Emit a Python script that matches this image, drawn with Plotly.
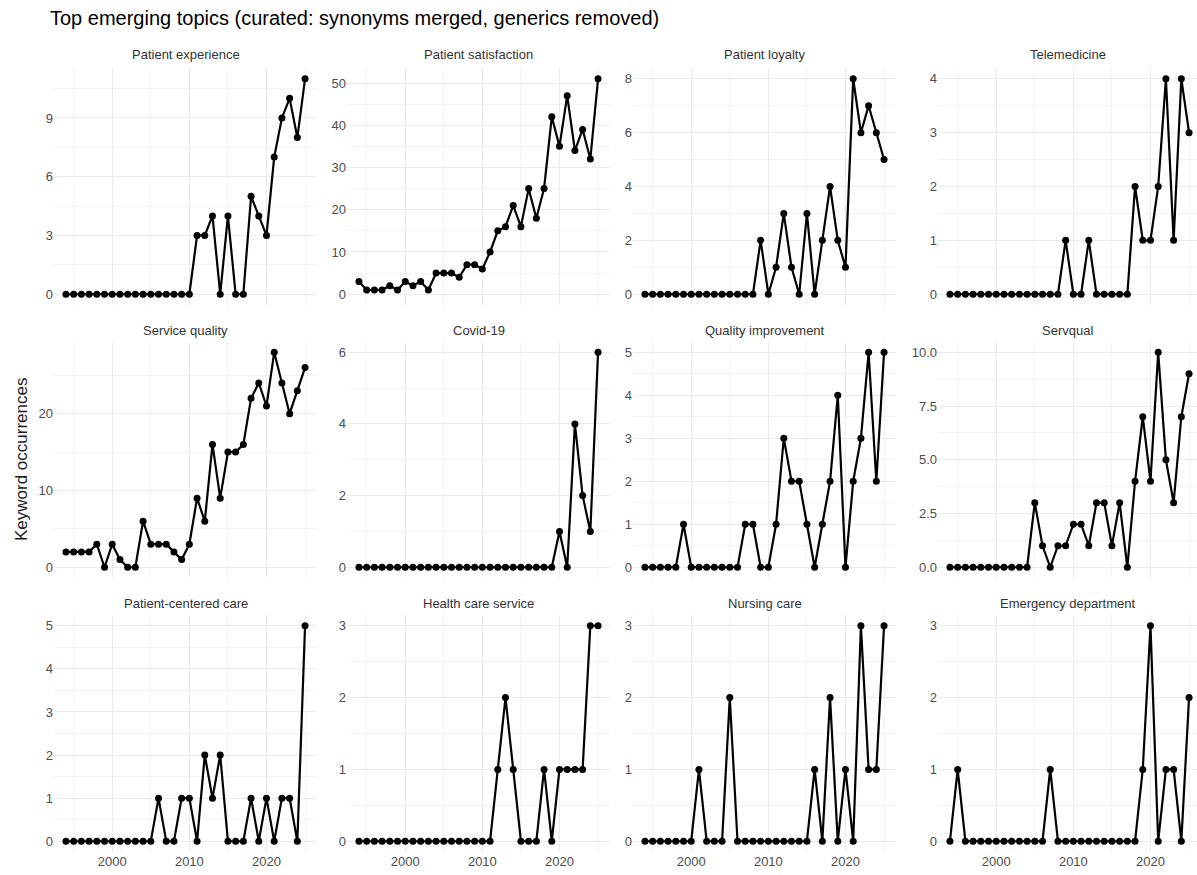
import plotly.graph_objects as go

years = list(range(1994, 2026))

topics = [
    "Patient experience", "Patient satisfaction", "Patient loyalty", "Telemedicine",
    "Service quality", "Covid-19", "Quality improvement", "Servqual",
    "Patient-centered care", "Health care service", "Nursing care", "Emergency department",
]

patient_experience = [0]*17 + [3, 3, 4, 0, 4, 0, 0, 5, 4, 3, 7, 9, 10, 8, 11]
patient_satisfaction = [3, 1, 1, 1, 2, 1, 3, 2, 3, 1, 5, 5, 5, 4, 7, 7, 6, 10, 15, 16, 21, 16,
                        25, 18, 25, 42, 35, 47, 34, 39, 32, 51]
patient_loyalty = [0]*15 + [2, 0, 1, 3, 1, 0, 3, 0, 2, 4, 2, 1, 8, 6, 7, 6, 5]
telemedicine = [0]*15 + [1, 0, 0, 1, 0, 0, 0, 0, 0, 2, 1, 1, 2, 4, 1, 4, 3]
service_quality = [2, 2, 2, 2, 3, 0, 3, 1, 0, 0, 6, 3, 3, 3, 2, 1, 3, 9, 6, 16, 9, 15, 15, 16,
                   22, 24, 21, 28, 24, 20, 23, 26]
covid_19 = [0]*26 + [1, 0, 4, 2, 1, 6]
quality_improvement = [0, 0, 0, 0, 0, 1, 0, 0, 0, 0, 0, 0, 0, 1, 1, 0, 0, 1, 3, 2, 2, 1, 0, 1,
                       2, 4, 0, 2, 3, 5, 2, 5]
servqual = [0]*11 + [3, 1, 0, 1, 1, 2, 2, 1, 3, 3, 1, 3, 0, 4, 7, 4, 10, 5, 3, 7, 9]
patient_centered_care = [0]*12 + [1, 0, 0, 1, 1, 0, 2, 1, 2, 0, 0, 0, 1, 0, 1, 0, 1, 1, 0, 5]
health_care_service = [0]*18 + [1, 2, 1, 0, 0, 0, 1, 0, 1, 1, 1, 1, 3, 3]
nursing_care = [0]*7 + [1, 0, 0, 0, 2] + [0]*10 + [1, 0, 2, 0, 1, 0, 3, 1, 1, 3]
emergency_department = [0, 1] + [0]*11 + [1] + [0]*11 + [1, 3, 0, 1, 1, 0, 2]

series = [patient_experience, patient_satisfaction, patient_loyalty, telemedicine,
          service_quality, covid_19, quality_improvement, servqual,
          patient_centered_care, health_care_service, nursing_care, emergency_department]

y_dticks = [3, 10, 2, 1, 10, 2, 1, 2.5, 1, 1, 1, 1]

W, H = 1197, 875
col_px = [(54, 317), (347, 610), (633, 896), (938, 1197)]
row_px = [(68, 305), (341.5, 578), (615, 852)]
strip_y = [55, 330, 603]
px_per_year = 263 / 34.1

GRID = "#EBEBEB"
TICKCOL = "#4D4D4D"
FONT = "Liberation Sans, Arial, sans-serif"

fig = go.Figure()
layout = {}
annotations = []

for i, (name, vals) in enumerate(zip(topics, series)):
    r, c = divmod(i, 4)
    n = i + 1
    sfx = "" if n == 1 else str(n)
    fig.add_trace(go.Scatter(
        x=years, y=vals, mode="lines+markers",
        line=dict(color="black", width=2.2),
        marker=dict(color="black", size=7),
        xaxis="x" + sfx, yaxis="y" + sfx, showlegend=False,
        hoverinfo="x+y",
    ))
    x0, x1 = col_px[c]
    y0, y1 = row_px[r]
    xr0 = years[0] - 0.05 * (years[-1] - years[0])
    xr1 = xr0 + (x1 - x0) / px_per_year
    vmax = max(vals)
    dt = y_dticks[i]
    layout["xaxis" + sfx] = dict(
        domain=[x0 / W, x1 / W], anchor="y" + sfx, range=[xr0, xr1],
        tickmode="linear", tick0=2000, dtick=10,
        showgrid=True, gridcolor=GRID, gridwidth=1,
        minor=dict(tickmode="linear", tick0=1995, dtick=5, showgrid=True,
                   gridcolor="#F3F3F3", gridwidth=0.6),
        zeroline=False, showline=False, ticks="",
        showticklabels=(r == 2),
        tickfont=dict(size=13, color=TICKCOL, family=FONT),
    )
    layout["yaxis" + sfx] = dict(
        domain=[1 - y1 / H, 1 - y0 / H], anchor="x" + sfx,
        range=[-0.05 * vmax, 1.05 * vmax],
        tickmode="linear", tick0=0, dtick=dt,
        tickformat=".1f" if dt == 2.5 else "d",
        showgrid=True, gridcolor=GRID, gridwidth=1,
        minor=dict(tickmode="linear", tick0=0, dtick=dt / 2, showgrid=True,
                   gridcolor="#F3F3F3", gridwidth=0.6),
        zeroline=False, showline=False, ticks="",
        tickfont=dict(size=13, color=TICKCOL, family=FONT),
    )
    annotations.append(dict(
        text=name, x=(x0 + x1) / 2 / W, y=1 - strip_y[r] / H,
        xref="paper", yref="paper", xanchor="center", yanchor="middle",
        showarrow=False, font=dict(size=13, color="#333333", family=FONT),
    ))

annotations.append(dict(
    text="Keyword occurrences", x=21 / W, y=1 - 460 / H, xref="paper", yref="paper",
    xanchor="center", yanchor="middle", textangle=-90, showarrow=False,
    font=dict(size=17, color="#1A1A1A", family=FONT),
))
annotations.append(dict(
    text="Top emerging topics (curated: synonyms merged, generics removed)",
    x=48 / W, y=1 - 18 / H, xref="paper", yref="paper",
    xanchor="left", yanchor="middle", showarrow=False,
    font=dict(size=20, color="#000000", family=FONT),
))

fig.update_layout(
    width=W, height=H, autosize=False,
    margin=dict(l=0, r=0, t=0, b=0),
    paper_bgcolor="white", plot_bgcolor="white",
    font=dict(family=FONT),
    annotations=annotations,
    **layout,
)

fig.write_html("out.html", config={"displayModeBar": False},
               post_script="document.body.style.margin='0';document.body.style.overflow='hidden';")
